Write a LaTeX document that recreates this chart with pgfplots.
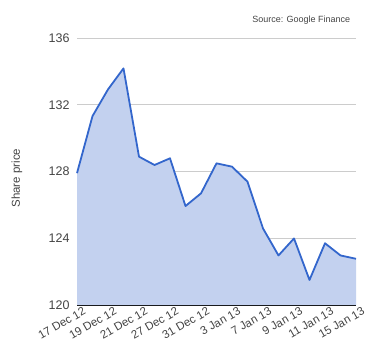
\documentclass[border=0pt]{standalone}
\usepackage{pgfplots}
\pgfplotsset{compat=1.18}
\usepackage{fontspec}
\setmainfont{Liberation Sans}
\definecolor{linec}{HTML}{3366CC}
\definecolor{fillc}{HTML}{C3D1EF}
\definecolor{gridc}{HTML}{CCCCCC}
\definecolor{txt}{HTML}{444444}
\begin{document}
\begin{tikzpicture}[x=1pt,y=1pt]
\path[use as bounding box] (0,0) rectangle (380,360);
\begin{axis}[
  at={(77pt,55pt)}, anchor=south west,
  scale only axis, width=279pt, height=267pt,
  xmin=0, xmax=18, ymin=120, ymax=136,
  ytick={120,124,128,132,136},
  xtick={0,2,...,18},
  xticklabels={17 Dec 12,19 Dec 12,21 Dec 12,27 Dec 12,31 Dec 12,3 Jan 13,7 Jan 13,9 Jan 13,11 Jan 13,15 Jan 13},
  x tick label style={rotate=30, anchor=north east, font=\fontsize{11.5}{12}\selectfont, text=txt, inner sep=1pt, yshift=-3pt, xshift=5pt},
  y tick label style={font=\fontsize{12.5}{13}\selectfont, text=txt, xshift=-4pt},
  /pgf/number format/assume math mode=true,
  ymajorgrids, grid style={gridc, line width=0.8pt},
  major tick length=0pt,
  axis x line*=bottom, axis y line*=left,
  x axis line style={black, line width=0.8pt, -},
  y axis line style={draw=none},
  ylabel={Share price}, ylabel style={font=\fontsize{11.5}{12}\selectfont, text=txt, at={(axis description cs:-0.215,0.475)}, anchor=center, rotate=0},
  clip=false,
]
\addplot[draw=none, fill=fillc] coordinates {
(0,127.9) (1,131.32) (2,132.92) (3,134.18) (4,128.89) (5,128.39) (6,128.79) (7,125.93) (8,126.69) (9,128.49) (10,128.29) (11,127.39) (12,124.59) (13,122.97) (14,123.99) (15,121.50) (16,123.70) (17,122.97) (18,122.77)
} \closedcycle;
\addplot[linec, line width=1.8pt, line join=round] coordinates {
(0,127.9) (1,131.32) (2,132.92) (3,134.18) (4,128.89) (5,128.39) (6,128.79) (7,125.93) (8,126.69) (9,128.49) (10,128.29) (11,127.39) (12,124.59) (13,122.97) (14,123.99) (15,121.50) (16,123.70) (17,122.97) (18,122.77)
};
\node[anchor=east, font=\fontsize{9}{10}\selectfont, text=txt, inner sep=0pt] at (rel axis cs:0.98,1.065) {Source: Google Finance};
\end{axis}
\end{tikzpicture}
\end{document}
